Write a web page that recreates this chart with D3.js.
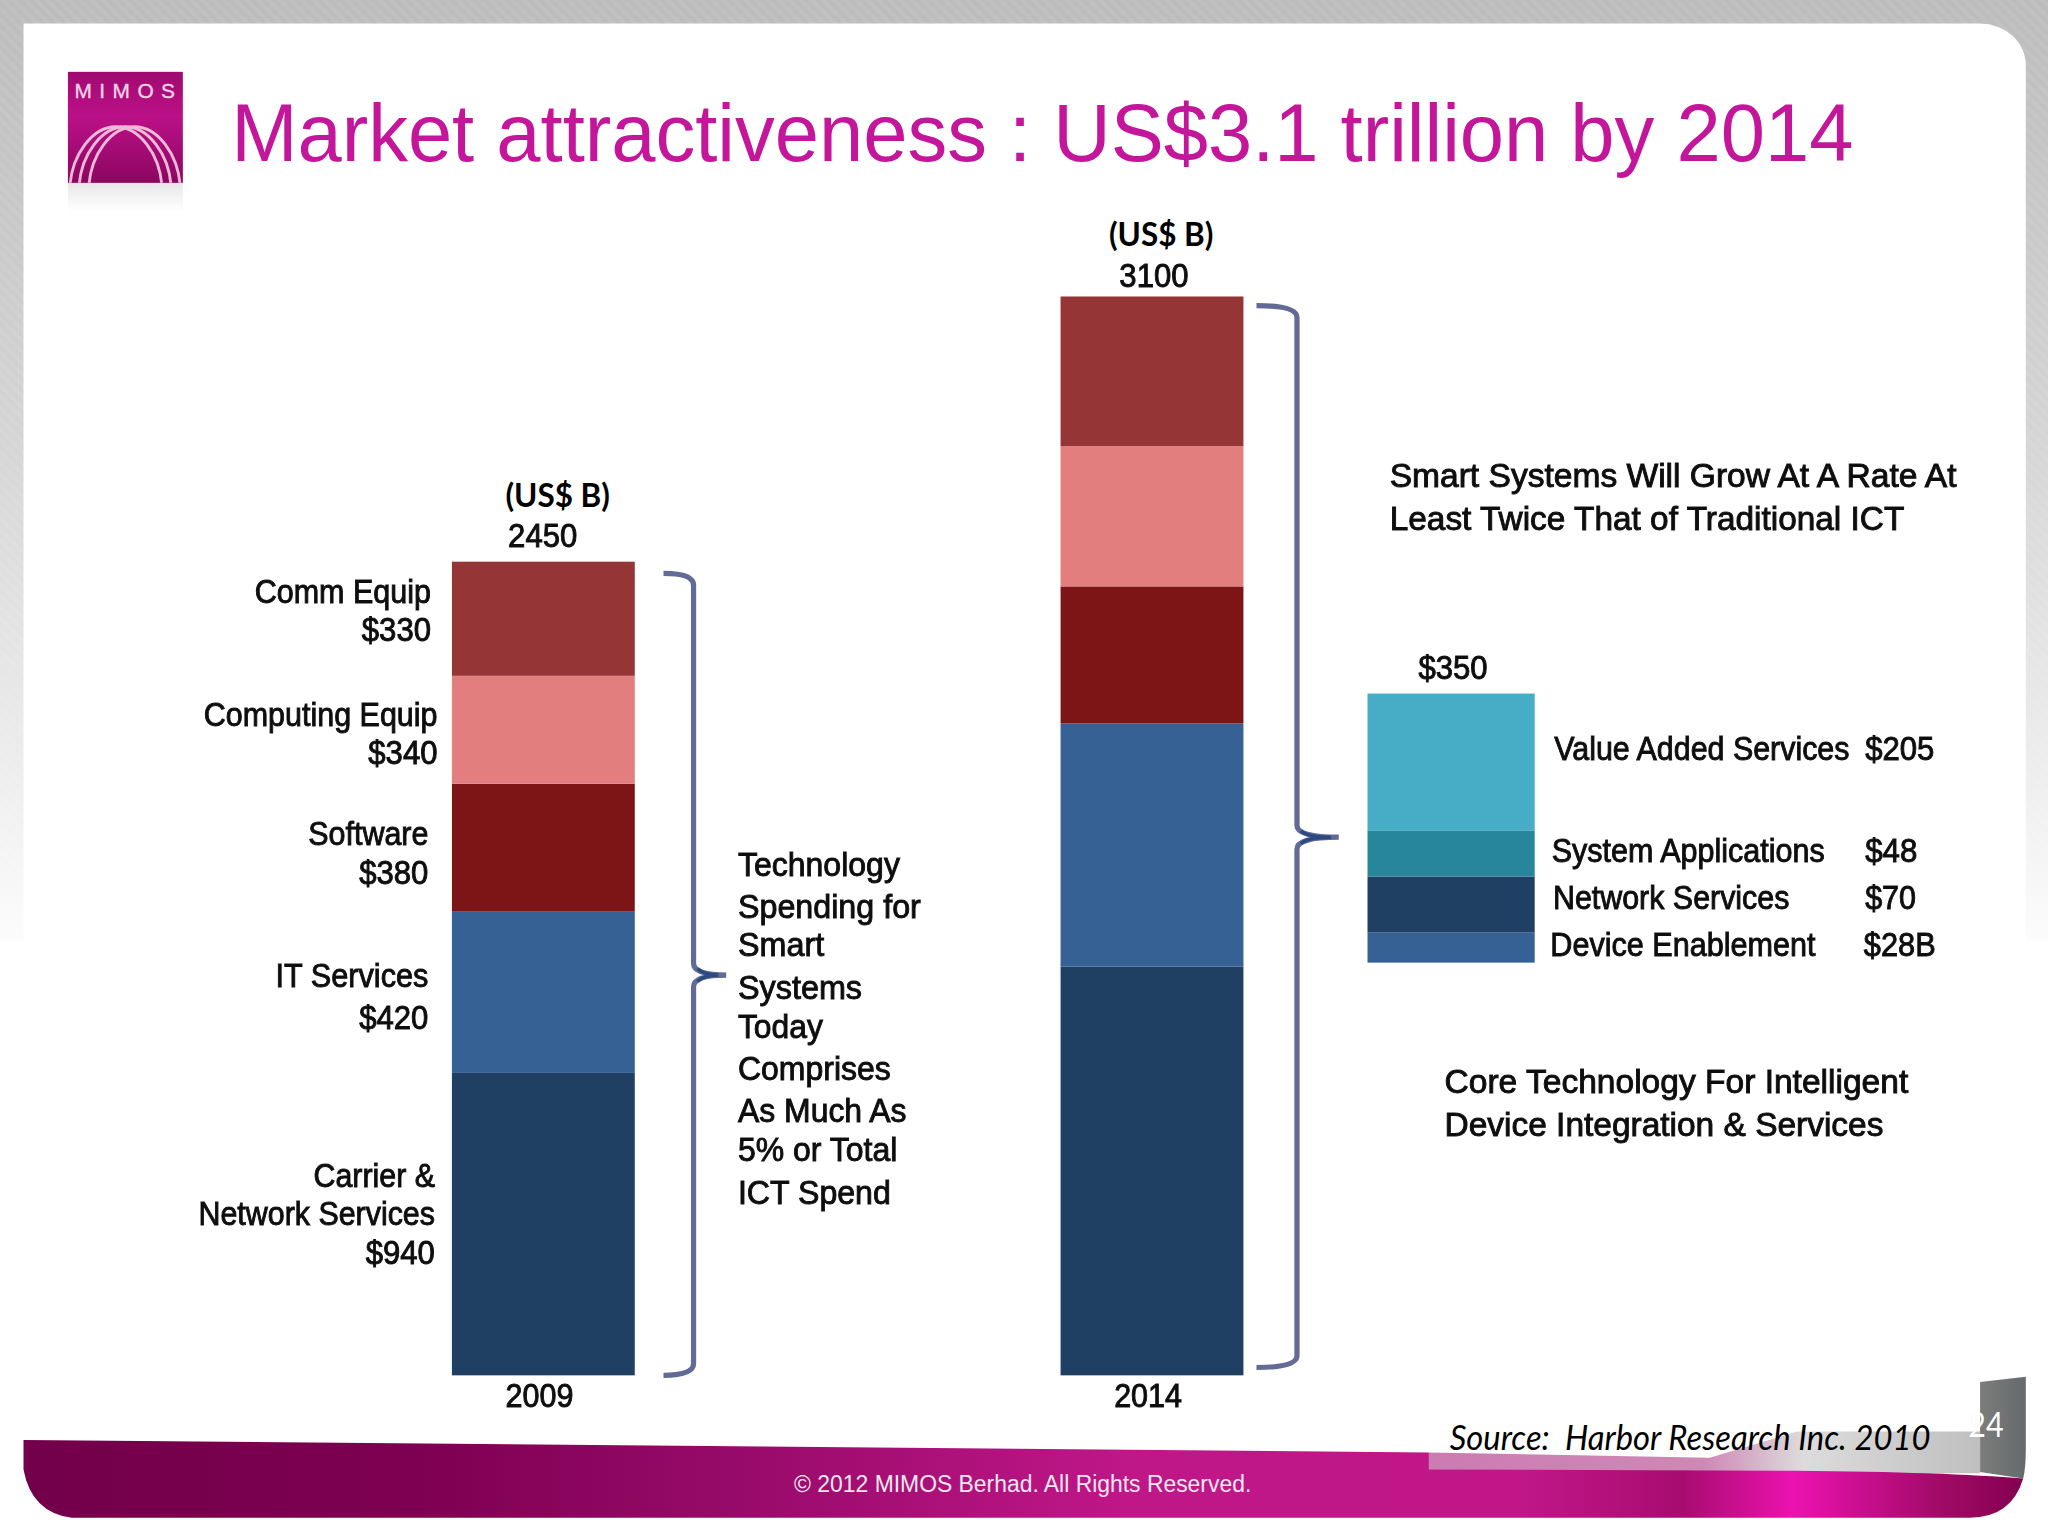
<!DOCTYPE html>
<html>
<head>
<meta charset="utf-8">
<title>Market attractiveness</title>
<script src="https://d3js.org/d3.v7.min.js"></script>
<style>
html, body { margin: 0; padding: 0; background: #fff; }
svg { display: block; }
</style>
</head>
<body>
<script>
// values (US$ B), the printed labels are kept apart below
const years = ['2009', '2014'];
const categories = ['Carrier & Network Services', 'IT Services', 'Software', 'Computing Equip', 'Comm Equip'];
const heights2009 = [869, 465, 366, 310, 328];
const heights2014 = [1175, 698, 394, 403, 430];
const smartCategories = ['Device Enablement', 'Network Services', 'System Applications', 'Value Added Services'];
const smartHeights = [39, 73, 60, 178];
const stackColors = ['#1f3f63', '#366194', '#7d1415', '#e37e7e', '#953535'];
const smartColors = ['#366194', '#1f3f63', '#28869c', '#47acc6'];

// printed text: [string, left, right, baseline], on a 1568 wide page
const barLabels = [
	['2450', 389, 442, 419], ['3100', 857, 910, 220], ['$350', 1086, 1139, 520],
	['Comm Equip', 195, 330, 462], ['$330', 277, 330, 491],
	['Computing Equip', 156, 335, 556], ['$340', 282, 335, 585],
	['Software', 236, 328, 647], ['$380', 275, 328, 677],
	['IT Services', 211, 328, 756], ['$420', 275, 328, 788],
	['Carrier &', 240, 333, 909], ['Network Services', 152, 333, 938], ['$940', 280, 333, 968],
	['Value Added Services', 1190, 1416, 582], ['$205', 1428, 1481, 582],
	['System Applications', 1188, 1397, 660], ['$48', 1428, 1468, 660],
	['Network Services', 1189, 1370, 696], ['$70', 1428, 1467, 696],
	['Device Enablement', 1187, 1390, 732], ['$28B', 1427, 1482, 732]
];
const noteLines = [
	['Technology', 565, 689, 671], ['Spending for', 565, 705, 703], ['Smart', 565, 631, 732],
	['Systems', 565, 660, 765], ['Today', 565, 630, 795], ['Comprises', 565, 682, 827],
	['As Much As', 565, 694, 859], ['5% or Total', 565, 687, 889], ['ICT Spend', 565, 682, 922],
	['Smart Systems Will Grow At A Rate At', 1064, 1498, 373],
	['Least Twice That of Traditional ICT', 1064, 1458, 406],
	['Core Technology For Intelligent', 1106, 1461, 837],
	['Device Integration & Services', 1106, 1442, 870]
];

const svg = d3.select('body').append('svg')
	.attr('width', 2048).attr('height', 1536)
	.attr('viewBox', '0 0 1568 1176')
	.style('font-family', '"Liberation Sans", Arial, sans-serif');
const defs = svg.append('defs');

function gradient(id, stops, vertical) {
	const g = defs.append('linearGradient').attr('id', id)
		.attr('x1', 0).attr('y1', 0).attr('x2', vertical ? 0 : 1).attr('y2', vertical ? 1 : 0);
	stops.forEach(s => g.append('stop').attr('offset', s[0]).attr('stop-color', s[1]));
}
gradient('edgeFill', [[0, '#bcbcbc'], [0.45, '#d4d4d4'], [0.8, '#ececec'], [1, '#fcfcfc']], true);
gradient('swoosh', [[0, '#72004a'], [0.2, '#7e0052'], [0.35, '#960a68'], [0.55, '#bf1688'], [0.75, '#c01688'], [0.83, '#a80c70'], [0.885, '#ec12b0'], [0.96, '#a00a66'], [1, '#840050']]);
gradient('shade', [[0, '#cb7cb2'], [0.5, '#cf88b6'], [0.68, '#dcdcdc'], [1, '#bfbfbf']]);
gradient('tab', [[0, '#7c7c7c'], [1, '#666a6c']]);
gradient('logoFill', [[0, '#a00a70'], [0.4, '#bc1088'], [1, '#8c0660']], true);
gradient('logoShadow', [[0, '#d8d8d8'], [1, '#ffffff']], true);

const hatch = defs.append('pattern').attr('id', 'hatch').attr('width', 6).attr('height', 6)
	.attr('patternUnits', 'userSpaceOnUse').attr('patternTransform', 'rotate(-45)');
hatch.append('rect').attr('width', 3).attr('height', 6).attr('fill', '#fff').attr('opacity', 0.06);

const soft = defs.append('filter').attr('id', 'soft');
soft.append('feGaussianBlur').attr('stdDeviation', 0.45);

// page background
svg.append('rect').attr('width', 1568).attr('height', 720).attr('fill', 'url(#edgeFill)');
svg.append('rect').attr('width', 1568).attr('height', 720).attr('fill', 'url(#hatch)');
svg.append('path').attr('d', 'M18 18 H1516 A35 32 0 0 1 1551 50 V1176 H18 Z').attr('fill', '#fff');

// footer
svg.append('path')
	.attr('d', 'M1516 1058 L1551 1054 V1110 Q1551 1124 1549 1132 L1516 1127 Z')
	.attr('fill', 'url(#tab)');
svg.append('path')
	.attr('d', 'M1094 1112 L1309 1116 L1376 1096 H1516 V1128 H1094 Z')
	.attr('fill', 'url(#shade)');
svg.append('path')
	.attr('d', 'M18 1102.5 L1094 1112 V1125 L1376 1126 Q1490 1127 1549 1132 Q1540 1162 1508 1162 L55 1162 Q24 1158 18 1125 Z')
	.attr('fill', 'url(#swoosh)');

// logo
svg.append('rect').attr('x', 52).attr('y', 140).attr('width', 88).attr('height', 22).attr('fill', 'url(#logoShadow)').attr('opacity', 0.6);
svg.append('rect').attr('x', 52).attr('y', 55).attr('width', 88).attr('height', 85).attr('fill', 'url(#logoFill)');
defs.append('clipPath').attr('id', 'logoClip').append('rect').attr('x', 52).attr('y', 55).attr('width', 88).attr('height', 85);
[[53.5, 124], [60.5, 131], [68, 138]].forEach(a => {
	const mid = (a[0] + a[1]) / 2;
	svg.append('path')
		.attr('d', 'M' + a[0] + ' 142 C' + (a[0] + 2) + ' 118 ' + (mid - 18) + ' 97 ' + mid + ' 97 C' + (mid + 18) + ' 97 ' + (a[1] - 2) + ' 118 ' + a[1] + ' 142')
		.attr('fill', 'none').attr('stroke', '#efb9d8').attr('stroke-width', 2.2)
		.attr('clip-path', 'url(#logoClip)').attr('filter', 'url(#soft)');
});
svg.append('text').attr('x', 57).attr('y', 75).attr('textLength', 77).attr('lengthAdjust', 'spacing')
	.attr('font-size', 16).attr('fill', '#f3d2e6').attr('stroke', '#f3d2e6').attr('stroke-width', 0.3).text('MIMOS');

// title
svg.append('text').attr('x', 177).attr('y', 123).attr('textLength', 1242).attr('lengthAdjust', 'spacingAndGlyphs')
	.attr('font-size', 62).attr('fill', '#c4169a').text('Market attractiveness : US$3.1 trillion by 2014');

// the two big stacked bars
const y = d3.scaleLinear().domain([0, 3100]).range([1053, 227]);
const x = d3.scaleBand().domain(years).range([346, 952]).paddingInner(326 / 466).paddingOuter(0);
const rows = years.map((yr, i) => {
	const row = { year: yr };
	categories.forEach((c, j) => { row[c] = (i == 0 ? heights2009 : heights2014)[j]; });
	return row;
});
const series = d3.stack().keys(categories)(rows);
svg.append('g').selectAll('g').data(series).join('g')
	.attr('fill', (d, i) => stackColors[i])
	.selectAll('rect').data(d => d).join('rect')
	.attr('x', d => x(d.data.year))
	.attr('y', d => y(d[1]))
	.attr('width', x.bandwidth())
	.attr('height', d => y(d[0]) - y(d[1]));

// the smart systems bar, on its own scale
const ySmart = d3.scaleLinear().domain([0, 350]).range([737, 531]);
const xSmart = d3.scaleBand().domain(['smart']).range([1047, 1175]);
const smartRow = {};
smartCategories.forEach((c, j) => { smartRow[c] = smartHeights[j]; });
const smartSeries = d3.stack().keys(smartCategories)([smartRow]);
svg.append('g').selectAll('rect').data(smartSeries).join('rect')
	.attr('x', xSmart('smart'))
	.attr('y', d => ySmart(d[0][1]))
	.attr('width', xSmart.bandwidth())
	.attr('height', d => ySmart(d[0][0]) - ySmart(d[0][1]))
	.attr('fill', (d, i) => smartColors[i]);

// year axis under the bars
const axis = svg.append('g').attr('transform', 'translate(-3,1053)')
	.call(d3.axisBottom(x).tickSize(0));
axis.select('.domain').remove();
axis.selectAll('text')
	.attr('y', 24).attr('dy', 0)
	.style('font-family', '"Liberation Sans"').style('font-size', '25px')
	.attr('fill', '#111')
	.attr('stroke', '#111').attr('stroke-width', 0.7)
	.attr('textLength', 52).attr('lengthAdjust', 'spacingAndGlyphs')
	.attr('filter', 'url(#soft)');

// braces
function brace(left, top, bottom, spine, tip, mid) {
	const p = d3.path();
	p.moveTo(left, top);
	p.quadraticCurveTo(spine, top, spine, top + 9);
	p.lineTo(spine, mid - 9);
	p.quadraticCurveTo(spine, mid, tip, mid);
	p.quadraticCurveTo(spine, mid, spine, mid + 9);
	p.lineTo(spine, bottom - 9);
	p.quadraticCurveTo(spine, bottom, left, bottom);
	return p.toString();
}
[[508, 439, 1053, 531, 556, 746.5], [962, 234, 1047, 993, 1025, 641]].forEach(b => {
	svg.append('path').attr('d', brace.apply(null, b))
		.attr('fill', 'none').attr('stroke', '#626a96').attr('stroke-width', 4).attr('filter', 'url(#soft)');
	// darker core at the point
	svg.append('path').attr('d', 'M' + (b[3] + 3) + ' ' + (b[5] - 5) + ' Q' + (b[3] + 8) + ' ' + b[5] + ' ' + (b[4] - 6) + ' ' + b[5] + ' Q' + (b[3] + 8) + ' ' + b[5] + ' ' + (b[3] + 3) + ' ' + (b[5] + 5))
		.attr('fill', 'none').attr('stroke', '#2a4a80').attr('stroke-width', 2.6);
});

// all the blocky chart text
function label(d) {
	svg.append('text').attr('x', d[1]).attr('y', d[3])
		.attr('textLength', d[2] - d[1]).attr('lengthAdjust', 'spacingAndGlyphs')
		.attr('font-size', 25).attr('fill', '#111')
		.attr('stroke', '#111').attr('stroke-width', 0.7)
		.attr('filter', 'url(#soft)').text(d[0]);
}
barLabels.forEach(label);
noteLines.forEach(label);

[[387, 388], [849, 188]].forEach(p => {
	svg.append('text').attr('x', p[0]).attr('y', p[1])
		.attr('textLength', 80).attr('lengthAdjust', 'spacingAndGlyphs')
		.style('font-family', 'Lato').attr('font-weight', 700)
		.attr('font-size', 25).attr('fill', '#000').text('(US$ B)');
});

// source, page number and copyright
svg.append('text').attr('x', 1110).attr('y', 1110)
	.attr('textLength', 368).attr('lengthAdjust', 'spacingAndGlyphs')
	.style('font-family', 'Lato').attr('font-style', 'italic')
	.style('white-space', 'pre')
	.attr('font-size', 26).attr('fill', '#000').text('Source:  Harbor Research Inc. 2010');
svg.append('text').attr('x', 1507).attr('y', 1100)
	.attr('textLength', 27).attr('lengthAdjust', 'spacingAndGlyphs')
	.style('font-family', 'Lato')
	.attr('font-size', 26).attr('fill', '#fff').text('24');
svg.append('text').attr('x', 608).attr('y', 1142)
	.attr('textLength', 350).attr('lengthAdjust', 'spacingAndGlyphs')
	.attr('font-size', 18).attr('fill', '#f4e6ee').text('© 2012 MIMOS Berhad. All Rights Reserved.');
</script>
</body>
</html>
